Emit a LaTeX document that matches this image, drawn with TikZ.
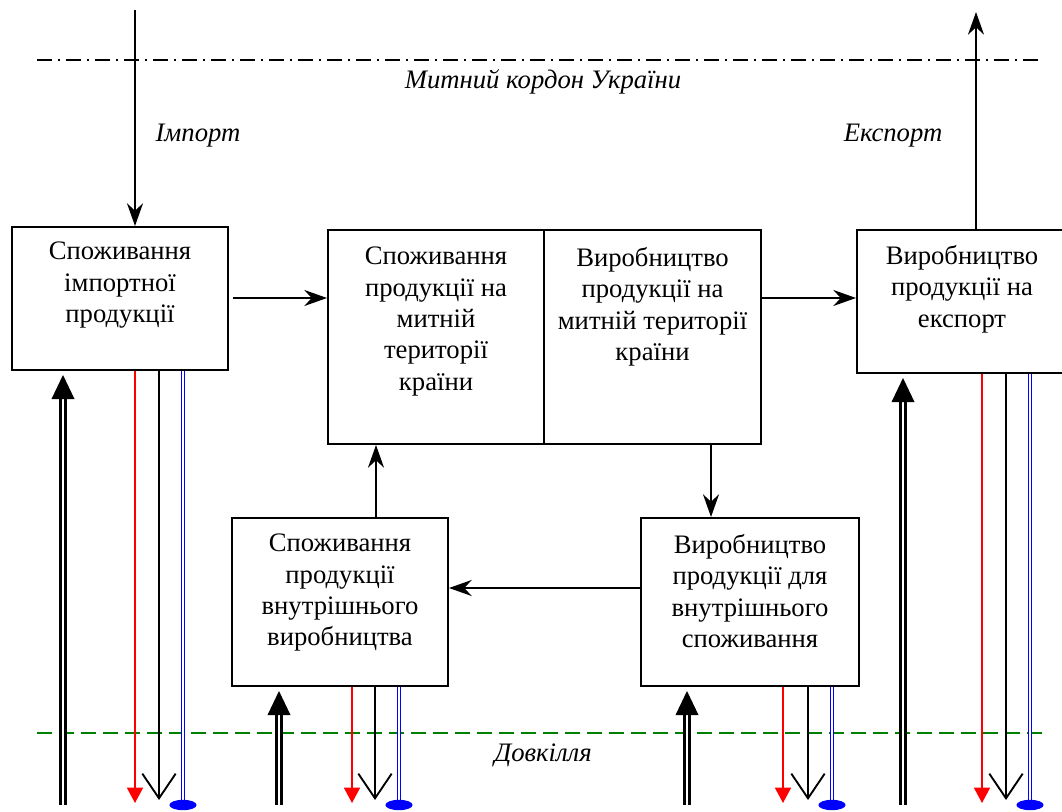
\documentclass[tikz,border=0pt]{standalone}
\usepackage{fontspec}
\setmainfont{Liberation Serif}
\usetikzlibrary{arrows.meta,calc}
\newdimen\pxu \pxu=0.75pt
\definecolor{dgreen}{RGB}{0,128,0}
\tikzset{
 box/.style={draw, line width=1.5pt, anchor=north west, inner sep=0pt},
 btext/.style={align=center, font=\fontsize{20pt}{23.5pt}\selectfont, inner sep=0pt, anchor=north},
 lab/.style={font=\fontsize{20pt}{23pt}\selectfont\itshape, inner sep=0pt},
 arr/.style={line width=1.5pt, -{Stealth[length=17pt,width=12pt,inset=5.5pt]}},
 redarr/.style={red, line width=1.2pt, -{Triangle[length=11.5pt,width=12pt]}},
 vararr/.style={line width=1.4pt, -{Straight Barb[length=18.5pt,width=25pt]}},
 dblline/.style={line width=2.3pt, double distance=1.5pt},
 blueline/.style={blue, line width=1.3pt, double distance=1.1pt},
}
\newcommand\flows[5]{%
 \coordinate (#1-d) at (#2,805);
 \coordinate (#1-r) at (#3,803);
 \coordinate (#1-k) at (#4,800);
 \coordinate (#1-b) at (#5,805);
 \draw[dblline] (#1-d) -- ($(#1.south -| #1-d)+(0,27)$);
 \fill ($(#1.south -| #1-d)+(0,4)$) -- ++(-11.5,24) -- ++(23,0) -- cycle;
 \draw[redarr] (#1.south -| #1-r) -- (#1-r);
 \draw[vararr] (#1.south -| #1-k) -- (#1-k);
 \draw[blueline] (#1.south -| #1-b) -- (#1-b);
 \fill[blue] (#1-b) ellipse [x radius=10.2pt, y radius=3.9pt];
}
\begin{document}
\begin{tikzpicture}[x=0.75pt,y=-0.75pt]
\useasboundingbox (0,0) rectangle (1062,812);

% boxes
\node[box, minimum width=216\pxu, minimum height=143\pxu] (b1) at (11,226) {};
\node[box, minimum width=216\pxu, minimum height=214\pxu] (cl) at (327,229) {};
\node[box, minimum width=217\pxu, minimum height=214\pxu] (cr) at (543,229) {};
\node[box, minimum width=210\pxu, minimum height=143\pxu] (b4) at (856,229) {};
\node[box, minimum width=216\pxu, minimum height=168\pxu] (bl) at (231,517) {};
\node[box, minimum width=218\pxu, minimum height=168\pxu] (br) at (640,517) {};

% texts
\node[btext] (t1) at ($(b1.north)+(0,16)$) {Споживання\\імпортної\\продукції};
\node[btext] (tcl) at ($(cl.north)+(0,18)$) {Споживання\\продукції на\\митній\\території\\країни};
\node[btext] (tcr) at ($(cr.north)+(0,18)$) {Виробництво\\продукції на\\митній території\\країни};
\node[btext] (t4) at ($(b4.north)+(0,16)$) {Виробництво\\продукції на\\експорт};
\node[btext] (tbl) at ($(bl.north)+(0,17)$) {Споживання\\продукції\\внутрішнього\\виробництва};
\node[btext] (tbr) at ($(br.north)+(0,17)$) {Виробництво\\продукції для\\внутрішнього\\споживання};

% border lines
\coordinate (bd1) at (37,60); \coordinate (bd2) at (1043,60);
\draw[line width=1.5pt, dash pattern=on 11.25pt off 4.5pt on 1.5pt off 4.5pt] (bd1) -- (bd2);
\coordinate (en1) at (37,733); \coordinate (en2) at (1043,733);
\draw[dgreen, line width=1.4pt, dash pattern=on 11.25pt off 5.25pt] (en1) -- (en2);

% labels
\node[lab] (lborder) at (543,82) {Митний кордон України};
\node[lab] (limp) at (198,136) {Імпорт};
\node[lab] (lexp) at (893,136) {Експорт};
\node[lab] (lenv) at (543,755) {Довкілля};

% import / export
\coordinate (imp) at (135,10);
\draw[arr] (imp) -- (b1.north -| imp);
\coordinate (exp) at (976,12);
\draw[arr] (b4.north -| exp) -- (exp);

% internal flows
\coordinate (h1) at (0,298);
\draw[arr] ($(b1.east |- h1)+(4,0)$) -- (cl.west |- h1);
\draw[arr] (cr.east |- h1) -- (b4.west |- h1);
\coordinate (up) at (376,0);
\draw[arr] (bl.north -| up) -- (cl.south -| up);
\coordinate (dn) at (711,0);
\draw[arr] (cr.south -| dn) -- (br.north -| dn);
\coordinate (h2) at (0,588);
\draw[arr] (br.west |- h2) -- (bl.east |- h2);

% environment flows
\flows{b1}{63}{135}{159}{183}
\flows{bl}{279}{352}{375}{399}
\flows{br}{687}{783}{808}{832}
\flows{b4}{903}{982}{1006}{1030}
\end{tikzpicture}
\end{document}
